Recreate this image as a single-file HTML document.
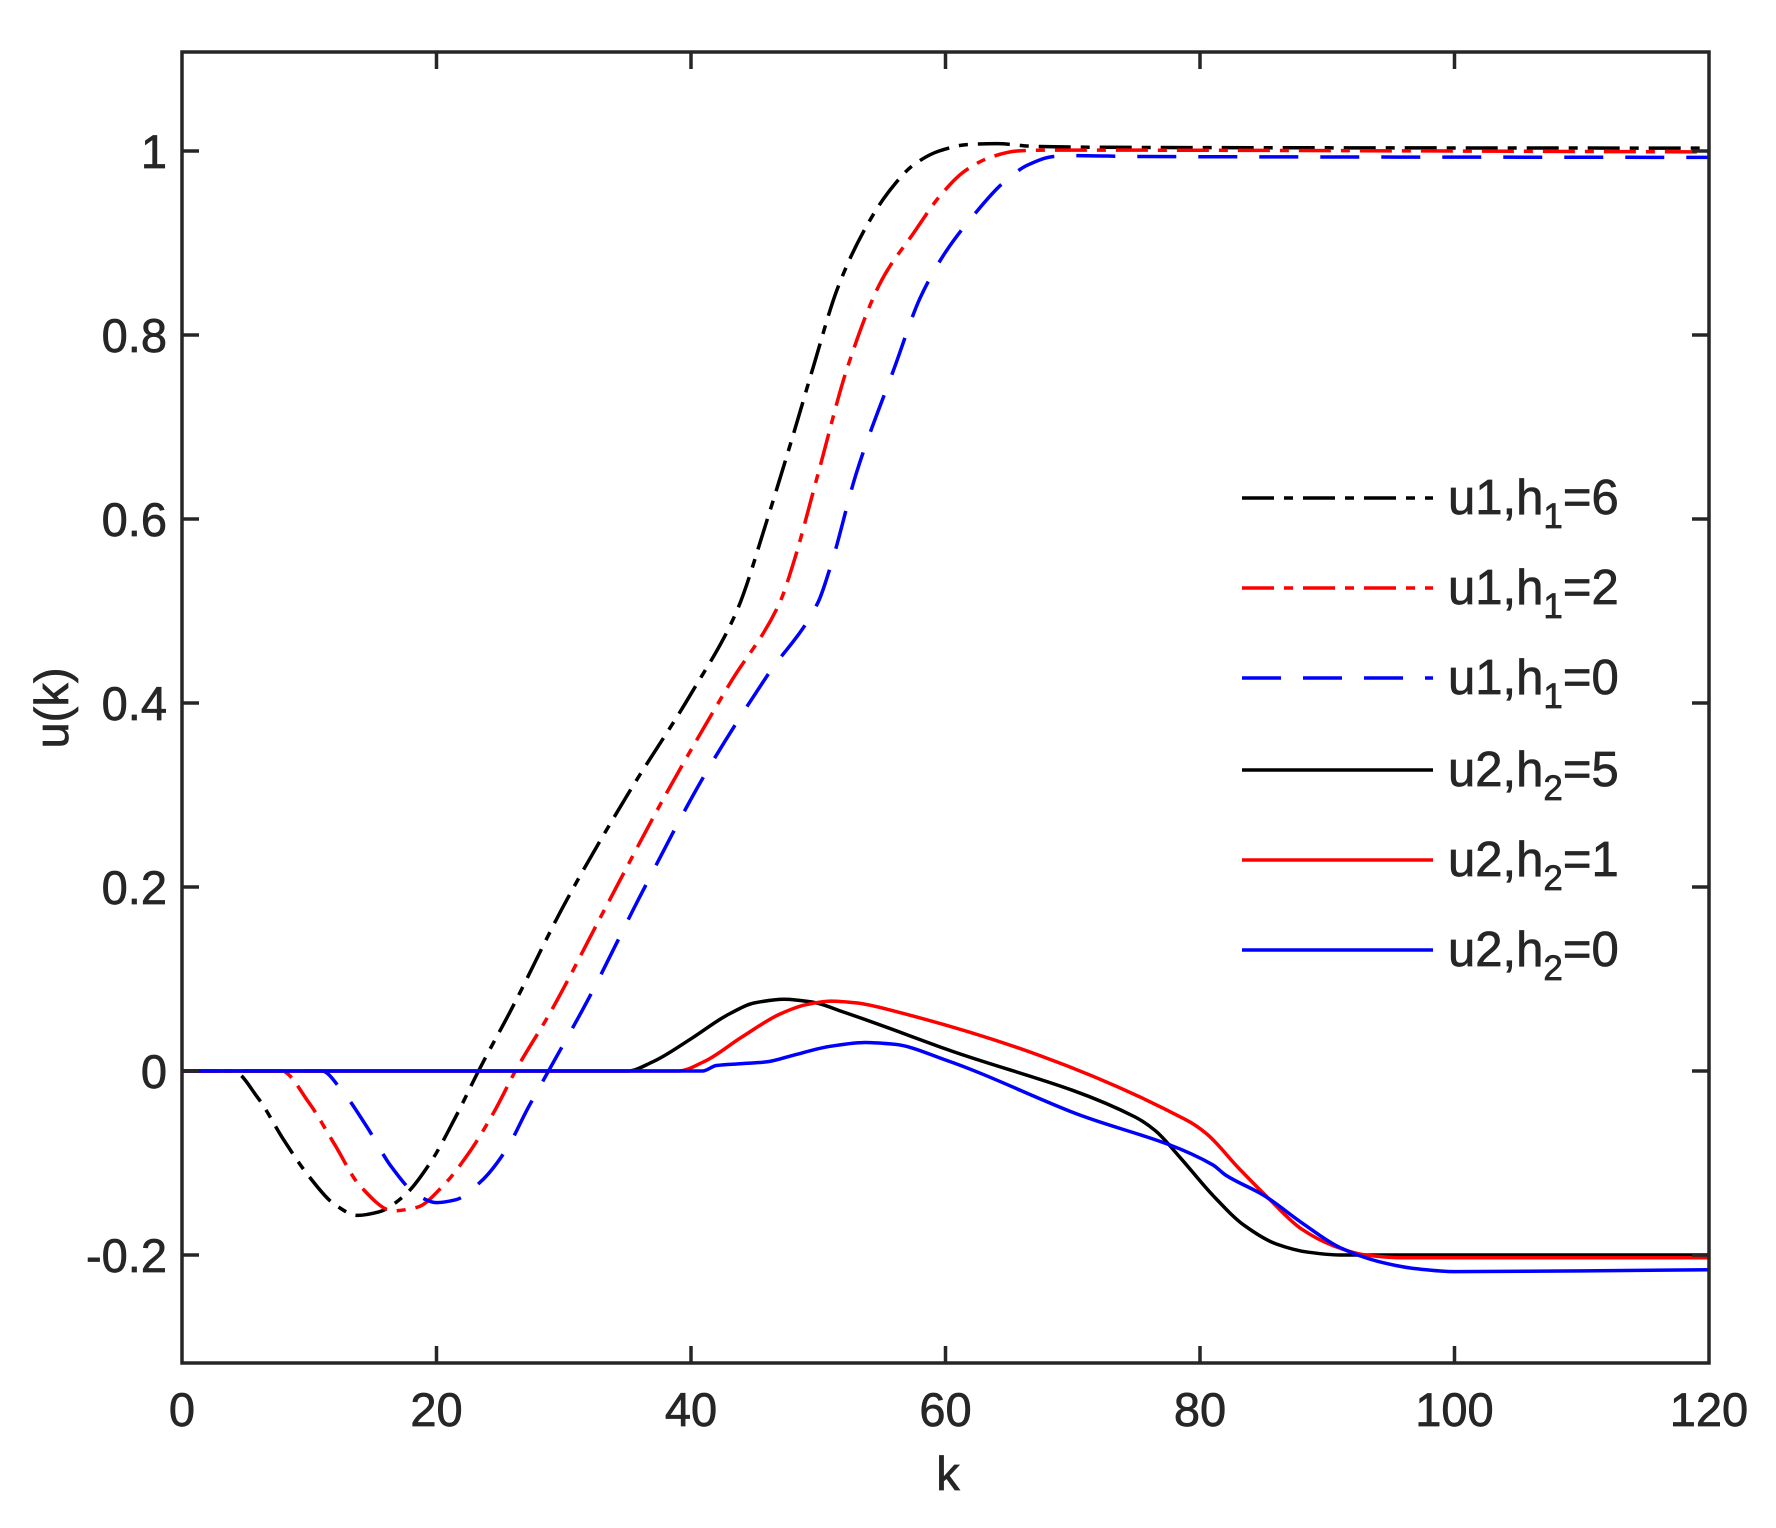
<!DOCTYPE html>
<html><head><meta charset="utf-8"><style>
html,body{margin:0;padding:0;background:#fff;}
svg{display:block;}
text{font-family:"Liberation Sans",Arial,sans-serif;fill:#262626;stroke:#262626;stroke-width:0.7;}
</style></head><body>
<svg id="s" width="1776" height="1528" viewBox="0 0 1776 1528" xmlns="http://www.w3.org/2000/svg">
<rect width="1776" height="1528" fill="#fff"/>
<g id="curves" fill="none" stroke-width="3.5" stroke-linejoin="round"></g>
<g stroke="#262626" stroke-width="3.5" fill="none">
<rect x="182" y="52" width="1527" height="1311"/>
<path d="M182 151h17M182 335h17M182 519h17M182 703h17M182 887h17M182 1071h17M182 1255h17
M1709 151h-17M1709 335h-17M1709 519h-17M1709 703h-17M1709 887h-17M1709 1071h-17M1709 1255h-17
M436.5 1363v-17M691 1363v-17M945.5 1363v-17M1200 1363v-17M1454.5 1363v-17
M436.5 52v17M691 52v17M945.5 52v17M1200 52v17M1454.5 52v17"/>
</g>
<g font-size="47" text-anchor="end">
<text x="167" y="168">1</text>
<text x="167" y="352">0.8</text>
<text x="167" y="536">0.6</text>
<text x="167" y="720">0.4</text>
<text x="167" y="904">0.2</text>
<text x="167" y="1088">0</text>
<text x="167" y="1272">-0.2</text>
</g>
<g font-size="47" text-anchor="middle">
<text x="182" y="1426">0</text>
<text x="436.5" y="1426">20</text>
<text x="691" y="1426">40</text>
<text x="945.5" y="1426">60</text>
<text x="1200" y="1426">80</text>
<text x="1454.5" y="1426">100</text>
<text x="1709" y="1426">120</text>
<text x="948" y="1490">k</text>
<text transform="translate(68,708) rotate(-90)">u(k)</text>
</g>
<g stroke-width="3.5">
<line x1="1242" y1="498" x2="1433" y2="498" stroke="#000" stroke-dasharray="32 10 9 10"/>
<line x1="1242" y1="588" x2="1433" y2="588" stroke="#f00" stroke-dasharray="32 10 9 10"/>
<line x1="1242" y1="678" x2="1433" y2="678" stroke="#00f" stroke-dasharray="39 22"/>
<line x1="1242" y1="770" x2="1433" y2="770" stroke="#000"/>
<line x1="1242" y1="860" x2="1433" y2="860" stroke="#f00"/>
<line x1="1242" y1="950" x2="1433" y2="950" stroke="#00f"/>
</g>
<g font-size="49" style="fill:#000;stroke:#000">
<text x="1448" y="514">u1,h<tspan font-size="35" dy="14">1</tspan><tspan dy="-14">=6</tspan></text>
<text x="1448" y="604">u1,h<tspan font-size="35" dy="14">1</tspan><tspan dy="-14">=2</tspan></text>
<text x="1448" y="694">u1,h<tspan font-size="35" dy="14">1</tspan><tspan dy="-14">=0</tspan></text>
<text x="1448" y="786">u2,h<tspan font-size="35" dy="14">2</tspan><tspan dy="-14">=5</tspan></text>
<text x="1448" y="876">u2,h<tspan font-size="35" dy="14">2</tspan><tspan dy="-14">=1</tspan></text>
<text x="1448" y="966">u2,h<tspan font-size="35" dy="14">2</tspan><tspan dy="-14">=0</tspan></text>
</g>
</svg>
<script>
(function(){
var X=function(k){return 182+k*12.725;},Y=function(u){return 1071-920*u;};
function path(d){
 var n=d.length,x=d.map(function(a){return a[0];}),y=d.map(function(a){return a[1];});
 var h=[],m=[],t=[];
 for(var i=0;i<n-1;i++){h[i]=x[i+1]-x[i];m[i]=(y[i+1]-y[i])/h[i];}
 t[0]=m[0];t[n-1]=m[n-2];
 for(i=1;i<n-1;i++){
  if(m[i-1]*m[i]<=0)t[i]=0;
  else{var w1=2*h[i]+h[i-1],w2=h[i]+2*h[i-1];t[i]=(w1+w2)/(w1/m[i-1]+w2/m[i]);}
 }
 var s='M'+X(x[0]).toFixed(1)+' '+Y(y[0]).toFixed(1);
 for(i=0;i<n-1;i++){
  var dx=h[i]/3;
  s+=' C'+X(x[i]+dx).toFixed(1)+' '+Y(y[i]+t[i]*dx).toFixed(1)+' '+X(x[i+1]-dx).toFixed(1)+' '+Y(y[i+1]-t[i+1]*dx).toFixed(1)+' '+X(x[i+1]).toFixed(1)+' '+Y(y[i+1]).toFixed(1);
 }
 return s;
}
var S=[
 ['#000','32 10 9 10',[[0,0],[4,0],[6,-0.03],[8,-0.075],[10,-0.115],[12,-0.145],[13.8,-0.157],[15.5,-0.153],[17.5,-0.135],[19.5,-0.1],[21.5,-0.05],[23.3,0],[26,0.07],[30,0.18],[35,0.3],[40,0.41],[43.6,0.5],[46,0.6],[48,0.69],[49.6,0.765],[51.5,0.85],[53.5,0.911],[55.5,0.955],[57.5,0.985],[59.5,1.0],[61.7,1.007],[64,1.008],[67,1.005],[72,1.004],[120,1.003]]],
 ['#f00','32 10 9 10',[[0,0],[7.8,0],[10,-0.035],[12,-0.08],[14,-0.125],[16.6,-0.152],[18.5,-0.148],[20.5,-0.125],[22.5,-0.09],[24.5,-0.045],[26.2,0],[29,0.065],[33,0.17],[38,0.3],[43,0.42],[47,0.51],[48,0.55],[50,0.65],[52.3,0.765],[55,0.86],[57.5,0.911],[59.5,0.95],[61.5,0.978],[63.5,0.993],[65.6,1.0],[68,1.001],[120,0.999]]],
 ['#00f','39 22',[[0,0],[11,0],[12.5,-0.02],[14.5,-0.06],[16.5,-0.105],[18.5,-0.135],[20,-0.143],[21.5,-0.14],[23.5,-0.12],[25.5,-0.085],[27.2,-0.04],[28.8,0],[32,0.08],[36,0.19],[41,0.32],[46,0.43],[50,0.51],[51,0.55],[53,0.65],[56,0.765],[58,0.84],[60,0.89],[62.2,0.93],[64.5,0.965],[66.5,0.985],[68.5,0.994],[70,0.995],[75,0.994],[120,0.993]]],
 ['#000','',[[0,0],[35,0],[37,0.01],[40,0.035],[43,0.062],[45,0.074],[47.3,0.078],[49.5,0.075],[52,0.064],[60,0.024],[74.9,-0.05],[76.5,-0.065],[78.5,-0.095],[81,-0.135],[83.5,-0.168],[86,-0.188],[88.5,-0.197],[91,-0.2],[120,-0.2]]],
 ['#f00','',[[0,0],[39,0],[41,0.01],[44,0.037],[47,0.062],[49,0.072],[51,0.076],[53,0.074],[56,0.065],[78.9,-0.053],[80.5,-0.068],[83,-0.105],[85.5,-0.14],[88,-0.172],[90.5,-0.19],[93,-0.2],[96,-0.203],[120,-0.203]]],
 ['#00f','',[[0,0],[40.9,0],[42,0.006],[44,0.008],[46,0.01],[48,0.017],[51,0.027],[53.7,0.031],[56,0.029],[60,0.012],[70,-0.045],[81,-0.102],[82,-0.113],[85,-0.135],[88,-0.165],[91,-0.192],[94,-0.207],[97,-0.215],[100,-0.218],[120,-0.216]]]
];
var g=document.getElementById('curves');
S.forEach(function(c){
 var e=document.createElementNS('http://www.w3.org/2000/svg','path');
 e.setAttribute('d',path(c[2]));e.setAttribute('stroke',c[0]);
 if(c[1])e.setAttribute('stroke-dasharray',c[1]);
 g.appendChild(e);
});
})();
</script>
</body></html>
